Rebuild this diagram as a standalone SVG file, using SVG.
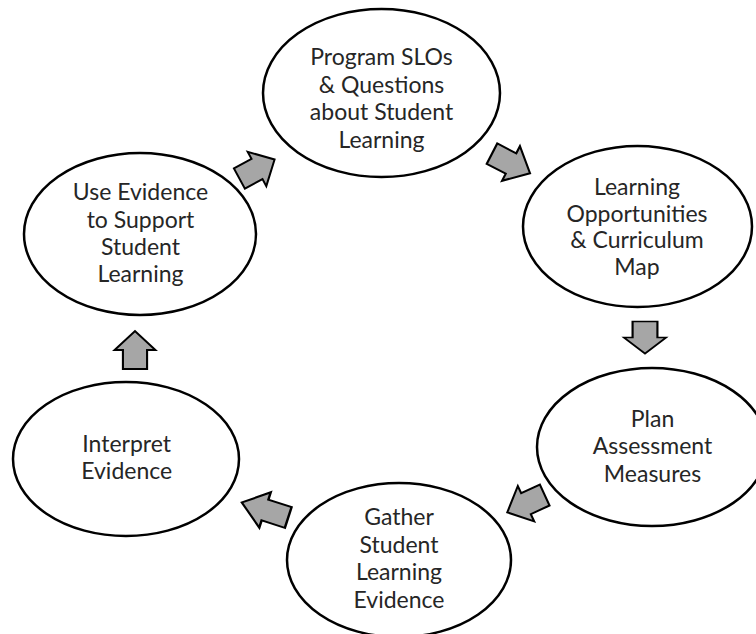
<svg xmlns="http://www.w3.org/2000/svg" width="756" height="634" viewBox="0 0 756 634">
<defs>
<polygon id="arr" points="-20,-11.5 0,-11.5 0,-19.5 20,0 0,19.5 0,11.5 -20,11.5"/>
</defs>
<style>
.node ellipse{fill:#fff;stroke:#000;stroke-width:2.5}
.node text{font-family:Lato,"Open Sans","Liberation Sans",sans-serif;font-size:23px;fill:#262626;text-anchor:middle}
.conn use{fill:#a6a6a6;stroke:#000;stroke-width:2;stroke-linejoin:miter}
</style>
<rect width="756" height="634" fill="#fff"/>
<g id="n1" class="node">
<ellipse cx="381.5" cy="93" rx="118.5" ry="84"/>
<text x="381.5" y="65">Program SLOs</text>
<text x="381.5" y="92.7">&amp; Questions</text>
<text x="381.5" y="120">about Student</text>
<text x="381.5" y="148">Learning</text>
</g>
<g id="n2" class="node">
<ellipse cx="637.5" cy="226.5" rx="114.5" ry="80.5"/>
<text x="637" y="195">Learning</text>
<text x="637" y="221.7">Opportunities</text>
<text x="637" y="248.3">&amp; Curriculum</text>
<text x="637" y="275">Map</text>
</g>
<g id="n3" class="node">
<ellipse cx="652" cy="447" rx="115" ry="79"/>
<text x="652.5" y="426.7">Plan</text>
<text x="652.5" y="454.3">Assessment</text>
<text x="652.5" y="481.7">Measures</text>
</g>
<g id="n4" class="node">
<ellipse cx="399" cy="560" rx="112" ry="77"/>
<text x="399" y="525">Gather</text>
<text x="399" y="552.7">Student</text>
<text x="399" y="580">Learning</text>
<text x="399" y="608.3">Evidence</text>
</g>
<g id="n5" class="node">
<ellipse cx="126" cy="459" rx="113" ry="77"/>
<text x="126.7" y="451.7">Interpret</text>
<text x="126.7" y="479">Evidence</text>
</g>
<g id="n6" class="node">
<ellipse cx="140" cy="234" rx="116" ry="81"/>
<text x="140.5" y="200">Use Evidence</text>
<text x="140.5" y="227.7">to Support</text>
<text x="140.5" y="255">Student</text>
<text x="140.5" y="281.7">Learning</text>
</g>
<g id="connectors" class="conn">
<use href="#arr" transform="translate(257,169) rotate(-28.5) scale(1,1)"/>
<use href="#arr" transform="translate(511,163.5) rotate(27.3) scale(1.07,1)"/>
<use href="#arr" transform="translate(645,337.5) rotate(90) scale(0.8,1.08)"/>
<use href="#arr" transform="translate(526,503.7) rotate(155.2) scale(1.03,1)"/>
<use href="#arr" transform="translate(265,510) rotate(198) scale(1.22,0.95)"/>
<use href="#arr" transform="translate(135,350) rotate(-90) scale(0.95,1.05)"/>
</g>
</svg>
